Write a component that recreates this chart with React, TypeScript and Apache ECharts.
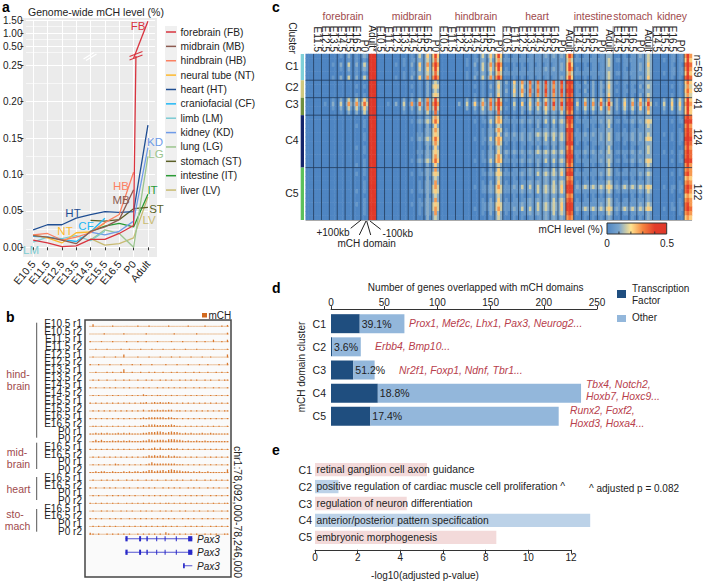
import React, { useEffect, useRef } from "react";
import * as echarts from "echarts";

const FONT = "Liberation Sans";
const INK = "#222222";
const BROWN = "#a04a4c";

// ---------- panel a ----------
const stagesA = ["E10.5", "E11.5", "E12.5", "E13.5", "E14.5", "E15.5", "E16.5", "P0", "Adult"];
const fb = [0.010, 0.006, 0.001, 0.002, 0.011, 0.011, 0.019, 0.03, 1.45];
const fbUpper = [null, null, null, null, null, null, null, 0.03, 1.45];
const mb = [0.016, 0.014, 0.010, 0.005, 0.022, 0.028, 0.038, 0.079, null];
const hb = [0.017, 0.019, 0.010, 0.014, 0.020, 0.034, 0.045, 0.103, null];
const nt = [0.017, 0.013, 0.006, 0.020, 0.021, 0.033, null, null, null];
const ht = [0.024, 0.031, 0.031, 0.040, 0.045, 0.049, 0.048, 0.049, 0.168];
const cf = [0.015, 0.014, 0.011, 0.008, 0.021, 0.040, null, null, null];
const lm = [0.007, 0.014, 0.012, 0.016, 0.009, 0.022, null, null, null];
const kd = [null, null, null, null, 0.021, 0.017, 0.022, 0.036, 0.137];
const lg = [null, null, null, null, 0.010, 0.024, 0.019, 0.000, 0.125];
const st = [null, null, null, null, 0.037, 0.036, 0.038, 0.053, 0.055];
const it = [null, null, null, null, 0.022, 0.029, 0.033, 0.028, 0.073];
const lv = [null, null, null, null, 0.012, 0.003, 0.005, 0.013, 0.069];
const tissuesA = [
  { name: "forebrain (FB)", code: "FB", color: "#d9343f", data: fb, at: [138, 26] },
  { name: "midbrain (MB)", code: "MB", color: "#8c5a50", data: mb, at: [121, 200] },
  { name: "hindbrain (HB)", code: "HB", color: "#fb8062", data: hb, at: [121, 186] },
  { name: "neural tube (NT)", code: "NT", color: "#fdb92e", data: nt, at: [65, 231] },
  { name: "heart (HT)", code: "HT", color: "#1f4e93", data: ht, at: [73, 212.5] },
  { name: "craniofacial (CF)", code: "CF", color: "#22b8f5", data: cf, at: [86, 226] },
  { name: "limb (LM)", code: "LM", color: "#7ccbd3", data: lm, at: [31, 250] },
  { name: "kidney (KD)", code: "KD", color: "#6f9be8", data: kd, at: [155, 141.5] },
  { name: "lung (LG)", code: "LG", color: "#9cc58f", data: lg, at: [156, 154] },
  { name: "stomach (ST)", code: "ST", color: "#5a5f26", data: st, at: [156.5, 208.5] },
  { name: "intestine (IT)", code: "IT", color: "#2a9a35", data: it, at: [152.5, 190] },
  { name: "liver (LV)", code: "LV", color: "#c9bb72", data: lv, at: [149, 220] },
];

// ---------- panel b ----------
const trackNames = [
  "E10.5 r1", "E10.5 r2", "E11.5 r1", "E11.5 r2", "E12.5 r1", "E12.5 r2", "E13.5 r1", "E13.5 r2",
  "E14.5 r1", "E14.5 r2", "E15.5 r1", "E15.5 r2", "E16.5 r1", "E16.5 r2", "P0 r1", "P0 r2",
  "E16.5 r1", "E16.5 r2", "P0 r1", "P0 r2",
  "E16.5 r1", "E16.5 r2", "P0 r1", "P0 r2",
  "E16.5 r1", "E16.5 r2", "P0 r1", "P0 r2",
];
const trackBins = [
  "03000000100000000100010000001000000100000100000102",
  "00000100000010000000100000000010000000100000000002",
  "10001000100001000100100010000100010000100100300103",
  "00100010000100100010001000100010001000100000100001",
  "01000100010040000100010001000100100010001001000004",
  "10010001000100010010001000010001000100010010001003",
  "00100010100150010010010100100101001001010010010101",
  "01010010010010100100101001010100101010100101001011",
  "10100101010010100101010010101010101001010100101001",
  "01010010101001010102101011010101001010101001010101",
  "10101010101010101011201212112101010101010101010101",
  "01010101010101010102012121212201101010101010101011",
  "10101010101010101012122222212211010101010101010101",
  "01101010101010101012133322222321101010101010101001",
  "11212121112121211112233344323433212121112112111111",
  "01313111212121211112243233324443321211211211111111",
  "10101010101010100112012313112212010101010101010101",
  "01010101010101010101132323213121101010100101010101",
  "01010101021010101010124222222221110101010101010101",
  "11212211211121212212244233424543322212121121111115",
  "01001010101001010100101010010101010010100101010101",
  "10100101010010100101010100101010100101010010101001",
  "01010010101010101001010101010100101010101001010101",
  "10101010101001010101010101011010101010101010101011",
  "01001010100101010010101001010100101001010010100101",
  "10101001010100101010101010101010010101001010100101",
  "01010101010010101010101010110101001010101001010101",
  "21010010101010100101010101031010101010100101010011",
];
const geneLines = [[0, 13, 36.9], [1, 13, 36.9], [2, 33.6, 36.9]];
const geneExons = [
  [0, 13, 13.8], [0, 17.9, 18.6], [0, 20.5, 21], [0, 24, 24.3], [0, 27, 27.3], [0, 31, 31.3], [0, 35.4, 36.9],
  [1, 13, 13.8], [1, 17.9, 18.6], [1, 20.5, 21], [1, 24, 24.3], [1, 27, 27.3], [1, 31, 31.3], [1, 35.4, 36.9],
  [2, 33.6, 34.2],
];

// ---------- panel c ----------
const stageFull = ["E10.5", "E11.5", "E12.5", "E13.5", "E14.5", "E15.5", "E16.5", "P0", "Adult"];
const stageLate = ["E14.5", "E15.5", "E16.5", "P0", "Adult"];
const stagesC = [
  ...stageFull.slice(0, 8), "Adult*",
  ...stageFull.slice(0, 8),
  ...stageFull.slice(0, 8),
  ...stageFull,
  ...stageLate, ...stageLate, ...stageLate,
];
const tissueC = [
  { name: "forebrain", stages: 9, at: 343 },
  { name: "midbrain", stages: 8, at: 411.7 },
  { name: "hindbrain", stages: 8, at: 476 },
  { name: "heart", stages: 9, at: 537 },
  { name: "intestine", stages: 5, at: 593 },
  { name: "stomach", stages: 5, at: 633 },
  { name: "kidney", stages: 5, at: 672 },
];
const profiles: Record<string, string> = {
  c1a: "000 000 000 000 010 020 010 121 999  000 000 000 000 010 131 242 474  000 000 000 000 010 131 242 474  010 011 011 011 111 121 121 121 475  010 011 011 011 222  000 010 011 121 232  000 000 011 011 585",
  c1b: "000 000 000 000 000 010 010 010 998  000 000 000 010 011 121 232 363  000 000 000 010 011 121 131 353  111 111 111 111 111 111 111 111 353  111 111 111 111 232  011 011 111 111 232  000 010 011 011 474",
  c1c: "000 000 000 010 020 030 020 131 899  000 000 010 010 020 141 252 585  000 000 000 010 020 131 252 585  000 010 010 011 011 011 011 121 474  000 010 011 011 232  000 011 011 121 242  000 000 010 010 696",
  c2a: "000 000 000 000 000 000 000 000 999  000 000 000 000 000 010 020 232  000 000 000 000 000 010 010 232  020 141 252 262 262 272 262 272 797  010 020 020 020 232  010 011 011 011 222  000 000 000 010 464",
  c2b: "000 000 000 000 000 000 010 010 989  000 000 000 000 010 010 020 343  000 000 000 000 010 010 020 242  010 131 241 251 252 262 252 262 686  011 011 020 021 242  000 010 010 020 232  000 000 010 010 353",
  c3a: "000 000 000 010 020 131 131 242 899  000 000 000 020 020 131 252 373  000 000 000 020 020 131 252 373  010 020 021 131 131 242 252 252 696  020 131 131 141 252  020 131 131 141 252  000 020 030 131 484",
  c3b: "000 000 010 020 030 252 252 363 999  000 010 020 030 151 262 262 585  000 000 020 030 141 252 262 585  000 030 040 141 252 262 272 272 797  030 151 151 262 373  020 141 151 252 373  010 030 040 141 585",
  c3c: "000 000 000 000 010 020 020 131 899  000 000 000 010 010 121 131 262  000 000 000 000 010 121 121 262  000 010 020 020 121 131 121 131 575  010 020 020 121 232  010 020 020 121 242  000 010 010 121 474",
  c4a: "000 000 000 000 000 000 000 000 999  000 000 000 000 000 010 121 353  000 000 000 000 000 010 121 353  010 010 011 011 111 121 121 121 787  010 010 011 111 222  000 010 011 111 222  000 000 000 010 686",
  c4b: "000 000 000 000 000 000 000 010 899  000 000 000 000 010 121 232 464  000 000 000 000 010 011 131 454  111 111 121 121 121 131 131 232 696  011 111 111 121 232  011 011 121 121 343  000 000 010 011 797",
  c4c: "000 000 000 000 000 000 010 010 989  000 000 000 000 000 010 020 242  000 000 000 000 000 000 020 232  000 010 010 010 020 011 020 121 575  000 011 010 011 131  000 000 010 011 232  000 000 000 000 575",
  c4d: "000 000 000 000 000 000 000 010 899  000 000 000 000 000 111 121 343  000 000 000 000 000 010 121 242  121 121 121 121 232 232 232 232 686  111 121 121 121 232  011 111 121 121 232  000 010 010 011 696",
  c5a: "000 000 000 000 000 000 000 010 888  000 000 000 000 000 010 121 252  000 000 000 000 000 010 020 242  010 011 011 121 121 121 131 232 676  010 011 011 111 232  010 011 011 111 121  000 000 000 010 565",
  c5b: "000 000 000 000 000 000 010 010 898  000 000 000 000 010 011 121 343  000 000 000 000 000 011 121 343  111 111 121 121 131 232 232 242 787  111 111 111 121 232  011 111 111 121 232  000 000 010 010 675",
  c5c: "000 000 000 000 000 000 000 000 889  000 000 000 000 000 000 020 232  000 000 000 000 000 000 010 232  000 010 010 011 011 121 121 121 565  000 010 010 010 121  000 000 010 010 121  000 000 000 000 454",
  c5d: "000 000 000 000 000 000 000 010 999  000 000 000 000 000 010 121 353  000 000 000 000 010 011 121 353  111 121 131 131 131 232 232 242 787  121 232 232 232 343  121 232 232 232 343  000 010 011 011 686",
};
const clusterRows = [
  ["c1a", "c1b", "c1c", "c1a", "c1b", "c1c"],
  ["c2a", "c2b", "c2a", "c2b"],
  ["c3a", "c3b", "c3a", "c3c"],
  ["c4a", "c4b", "c4c", "c4a", "c4d", "c4b", "c4a", "c4c", "c4d", "c4a", "c4b", "c4c"],
  ["c5a", "c5b", "c5c", "c5a", "c5d", "c5b", "c5c", "c5a", "c5b", "c5d", "c5a", "c5c"],
];
const clusterNames = ["C1", "C2", "C3", "C4", "C5"];
const clusterN = ["n=59", "38", "41", "124", "122"];
const clusterColors = ["#7fd0d8", "#cfc87e", "#6f8f3f", "#14256b", "#5cc05c"];
const clusterLabelY = [66, 87, 104, 140, 192.6];
const clusterNY = [66, 87, 104, 137, 192];
const heatColors = ["#4f86c3", "#7ba6ce", "#ffe390", "#f5843f", "#e33d2a", "#e0382a"];

// ---------- panel d ----------
const clustersD = ["C1", "C2", "C3", "C4", "C5"];
const tfCounts = [27, 1, 21, 44, 37];
const otherCounts = [42, 27, 20, 191, 177];
const tfPercent = ["39.1%", "3.6%", "51.2%", "18.8%", "17.4%"];

// ---------- panel e ----------
const goTerms = [
  "retinal ganglion cell axon guidance",
  "positive regulation of cardiac muscle cell proliferation ^",
  "regulation of neuron differentiation",
  "anterior/posterior pattern specification",
  "embryonic morphogenesis",
];
const goValues = [5.25, 1.1, 4.3, 12.9, 8.5];
const goColors = ["#f3dada", "#bcd2e8", "#f3dada", "#bcd2e8", "#f3dada"];

function txt(text: string, x: number, y: number, o: any = {}) {
  return {
    type: "text", x, y, rotation: o.rotation || 0, z: 50, silent: true,
    style: {
      text, fill: o.fill || INK, fontSize: o.size || 10.5, fontFamily: FONT,
      fontWeight: o.weight || "normal", fontStyle: o.italic ? "italic" : "normal",
      textAlign: o.align || "left", textVerticalAlign: "middle",
    },
  };
}
function seg(x1: number, y1: number, x2: number, y2: number, stroke: string, lineWidth = 1, z = 50) {
  return { type: "line", z, silent: true, shape: { x1, y1, x2, y2 }, style: { stroke, lineWidth } };
}

function buildOption() {
  // panel c data
  const colNames: string[] = [];
  stagesC.forEach((s) => colNames.push(s + " +100kb", s, s + " -100kb"));
  const rowKeys = clusterRows.flat();
  const heat: number[][] = [];
  rowKeys.forEach((k, r) => {
    profiles[k].replace(/\s/g, "").split("").forEach((d, c) => heat.push([c, r, Number(d)]));
  });
  const dividers: number[][] = [];
  let sum = 0;
  const tissueEnds: number[] = [];
  tissueC.forEach((t) => { sum += t.stages * 3; tissueEnds.push(sum); });
  for (let c = 3; c < colNames.length; c += 3) dividers.push([c, 0, c, rowKeys.length]);
  let rsum = 0;
  clusterRows.slice(0, 4).forEach((r) => { rsum += r.length; dividers.push([0, rsum, colNames.length, rsum]); });

  // panel b data
  const trackData: number[][] = [];
  trackBins.forEach((s, r) => s.split("").forEach((d, b) => trackData.push([b, r, Number(d)])));

  const graphics: any[] = [];
  // a backgrounds
  graphics.push({ type: "rect", z: -10, silent: true, shape: { x: 23, y: 18, width: 134, height: 239 }, style: { fill: "#ebebeb" } });
  graphics.push({ type: "rect", z: -10, silent: true, shape: { x: 165, y: 26, width: 12, height: 172 }, style: { fill: "#f0f0f0" } });
  graphics.push(txt("a", 2, 7, { size: 14, weight: "bold", fill: "#000" }));
  graphics.push(txt("Genome-wide mCH level (%)", 28, 11.5, { size: 10.5 }));
  tissuesA.forEach((t, i) => {
    const y = 32 + i * 14.37;
    graphics.push(seg(166, y, 176, y, t.color, 1.5));
    graphics.push(txt(t.name, 180.5, y, { size: 10.2 }));
    graphics.push(txt(t.code, t.at[0], t.at[1], { size: 11.5, fill: t.color, align: "center" }));
  });
  graphics.push(seg(129.5, 56.5, 142.5, 51.5, "#d9343f", 1.2, 60), seg(129.5, 60, 142.5, 55, "#d9343f", 1.2, 60));
  graphics.push(seg(83.5, 59, 94, 52.5, "#ffffff", 1.2, 60), seg(86, 60.5, 96.5, 54, "#ffffff", 1.2, 60));

  // b decorations
  graphics.push({ type: "rect", z: -5, silent: true, shape: { x: 85, y: 320, width: 146, height: 257 }, style: { fill: "#fafafa", stroke: "#444444", lineWidth: 1.5 } });
  graphics.push(txt("b", 6, 317, { size: 14, weight: "bold", fill: "#000" }));
  graphics.push({ type: "rect", z: 50, silent: true, shape: { x: 202, y: 313, width: 5, height: 4.5 }, style: { fill: "#d2691e" } });
  graphics.push(txt("mCH", 208.5, 315, { size: 10 }));
  graphics.push(txt("chr1:78,092,000-78,246,000", 238, 512, { size: 10.5, rotation: -Math.PI / 2, align: "center" }));
  [["hind-", 18, 373.5], ["brain", 18.5, 386], ["mid-", 17, 451.5], ["brain", 18.5, 463.5], ["heart", 18.5, 489], ["sto-", 15, 514], ["mach", 17.5, 526]].forEach((a: any) =>
    graphics.push(txt(a[0], a[1], a[2], { fill: BROWN, align: "center" })));
  graphics.push(seg(36.7, 322.7, 36.7, 437.7, "#555"), seg(36.7, 442.7, 36.7, 469, "#555"), seg(36.7, 477, 36.7, 500, "#555"), seg(36.7, 509, 36.7, 531.7, "#555"));
  ["Pax3", "Pax3", "Pax3"].forEach((g, i) => graphics.push(txt(g, 197, 539 + i * 13.5, { italic: true, size: 10 })));

  // c decorations
  graphics.push(txt("c", 272, 7, { size: 14, weight: "bold", fill: "#000" }));
  tissueC.forEach((t) => graphics.push(txt(t.name, t.at, 16, { fill: BROWN, align: "center", size: 10.4 })));
  graphics.push(txt("Cluster", 292, 38, { rotation: -Math.PI / 2, align: "center", size: 10 }));
  let ry = 54;
  const rowH = 166 / rowKeys.length;
  clusterRows.forEach((r, i) => {
    const h = r.length * rowH;
    graphics.push({ type: "rect", z: 50, silent: true, shape: { x: 300.7, y: ry, width: 3.3, height: h }, style: { fill: clusterColors[i] } });
    graphics.push(txt(clusterNames[i], 292, clusterLabelY[i], { size: 10.5, align: "center" }));
    graphics.push(txt(clusterN[i], 697.5, clusterNY[i], { size: 10, rotation: -Math.PI / 2, align: "center" }));
    ry += h;
  });
  const hx = (c: number) => 305.7 + (c / colNames.length) * 386.3;
  tissueEnds.slice(0, -1).forEach((c) => graphics.push(seg(hx(c), 26, hx(c), 54, "#777777", 0.8)));
  graphics.push(seg(305.7, 220.5, 692, 220.5, "#aaaaaa", 1));
  graphics.push(seg(361, 220, 350.7, 228.3, "#222"), seg(366, 221, 359.3, 235, "#222"), seg(366.7, 221, 370.7, 235, "#222"), seg(370, 221, 380.7, 229.3, "#222"));
  graphics.push(txt("+100kb", 333, 232.7, { align: "center", size: 10 }), txt("-100kb", 397.7, 233, { align: "center", size: 10 }), txt("mCH domain", 366.7, 243.5, { align: "center", size: 10 }));
  graphics.push(txt("mCH level (%)", 603, 229, { align: "right", size: 10 }));
  graphics.push({
    type: "rect", z: 50, silent: true, shape: { x: 607, y: 223, width: 59.7, height: 11 },
    style: {
      stroke: "#333", lineWidth: 1,
      fill: new echarts.graphic.LinearGradient(0, 0, 1, 0, heatColors.map((color, i) => ({ offset: i / (heatColors.length - 1), color }))),
    },
  });
  for (let i = 1; i < 5; i++) graphics.push(seg(607 + i * 11.94, 231.5, 607 + i * 11.94, 234, "#333", 1, 51));
  graphics.push(txt("0", 607, 243, { align: "center", size: 10 }), txt("0.5", 667, 243, { align: "center", size: 10 }));

  // d decorations
  graphics.push(txt("d", 272, 288, { size: 14, weight: "bold", fill: "#000" }));
  graphics.push(txt("Number of genes overlapped with mCH domains", 475.7, 287, { align: "center", size: 10 }));
  graphics.push(txt("mCH domain cluster", 301.7, 367, { align: "center", rotation: Math.PI / 2, size: 10 }));
  graphics.push({ type: "rect", z: 50, silent: true, shape: { x: 617, y: 290, width: 9, height: 8 }, style: { fill: "#1f4e7f" } });
  graphics.push({ type: "rect", z: 50, silent: true, shape: { x: 617, y: 315, width: 9, height: 7 }, style: { fill: "#93b7db" } });
  graphics.push(txt("Transcription", 632, 288, { size: 10 }), txt("Factor", 632, 300.5, { size: 10 }), txt("Other", 632, 317, { size: 10 }));
  ([
    ["Prox1, Mef2c, Lhx1, Pax3, Neurog2...", 409, 323.7], ["Erbb4, Bmp10...", 375, 346], ["Nr2f1, Foxp1, Ndnf, Tbr1...", 399, 370],
    ["Tbx4, Notch2,", 586, 384], ["Hoxb7, Hoxc9...", 586, 396.7], ["Runx2, Foxf2,", 570, 410.7], ["Hoxd3, Hoxa4...", 570, 423],
  ] as any[]).forEach((a) => graphics.push(txt(a[0], a[1], a[2], { italic: true, fill: "#b8404c", size: 10.4 })));

  // e decorations
  graphics.push(txt("e", 272, 450, { size: 14, weight: "bold", fill: "#000" }));
  graphics.push(txt("^ adjusted p = 0.082", 589, 488, { size: 10 }));
  graphics.push(txt("-log10(adjusted p-value)", 425, 575.5, { align: "center", size: 10 }));

  const greyLine = { color: "#333", width: 1 };
  const lowerTicks = [0, 0.05, 0.1, 0.15, 0.2, 0.25];
  const upperTicks = [0.5, 1, 1.5];
  const bandX = { type: "category", data: stagesA };
  const white = { show: true, lineStyle: { color: "#ffffff", width: 1 } };
  const whiteMinor = { show: true, lineStyle: { color: "#ffffff", width: 0.6 } };

  const grid = [
    { left: 25.5, width: 129.6, top: 20, height: 39 },
    { left: 25.5, width: 129.6, top: 56.6, height: 227.1 },
    { left: 89, width: 140, top: 319.5, height: 215.6 },
    { left: 89, width: 140, top: 532, height: 40.5 },
    { left: 305.7, width: 386.3, top: 54, height: 166 },
    { left: 305.7, width: 386.3, top: 54, height: 166 },
    { left: 331, width: 266, top: 312.1, height: 115.8 },
    { left: 315, width: 256, top: 461.2, height: 84.6 },
  ];
  const xAxis: any[] = [
    { ...bandX, gridIndex: 0, axisLine: { show: false }, axisTick: { show: false }, axisLabel: { show: false }, splitLine: { ...white, alignWithLabel: true, interval: 0 } },
    {
      ...bandX, gridIndex: 1, offset: -26.7, axisLine: { show: false },
      axisTick: { show: true, length: 3, alignWithLabel: true, interval: 0, lineStyle: greyLine },
      axisLabel: { rotate: 50, fontSize: 10.5, color: INK, fontFamily: FONT, interval: 0, margin: 5 },
      splitLine: { ...white, alignWithLabel: true, interval: 0 },
    },
    { type: "value", gridIndex: 2, min: 0, max: 50, show: false },
    { type: "value", gridIndex: 3, min: 0, max: 50, show: false },
    {
      type: "category", gridIndex: 4, data: colNames, position: "top",
      axisLine: { show: false }, axisTick: { show: false }, splitLine: { show: false },
      axisLabel: {
        rotate: 90, fontSize: 10, color: INK, fontFamily: FONT, margin: 2, hideOverlap: false,
        interval: (i: number) => i % 3 === 1,
        formatter: (_: string, i: number) => stagesC[(i - 1) / 3],
      },
    },
    { type: "value", gridIndex: 5, min: 0, max: colNames.length, show: false },
    {
      type: "value", gridIndex: 6, min: 0, max: 250, interval: 50, position: "top", offset: 3,
      axisLine: { show: true, lineStyle: greyLine }, axisTick: { show: true, length: 3, lineStyle: greyLine },
      axisLabel: { fontSize: 10, color: INK, fontFamily: FONT, margin: 2 }, splitLine: { show: false },
    },
    {
      type: "value", gridIndex: 7, min: 0, max: 12, interval: 2, offset: 4,
      axisLine: { show: true, lineStyle: greyLine }, axisTick: { show: true, length: 4, lineStyle: greyLine },
      axisLabel: { fontSize: 10, color: INK, fontFamily: FONT, margin: 3 }, splitLine: { show: false },
    },
  ];
  const yAxis: any[] = [
    {
      type: "value", gridIndex: 0, min: 0, max: 1.5, interval: 0.5, offset: 2.5,
      axisLine: { show: false },
      axisTick: { show: true, length: 3, customValues: upperTicks, lineStyle: greyLine },
      axisLabel: { fontSize: 10, color: INK, fontFamily: FONT, margin: 1, customValues: upperTicks, formatter: (v: number) => v.toFixed(2) },
      splitLine: white, minorTick: { show: false, splitNumber: 2 }, minorSplitLine: whiteMinor,
    },
    {
      type: "value", gridIndex: 1, min: -0.05, max: 0.262, interval: 0.05, offset: 2.5,
      axisLine: { show: false },
      axisTick: { show: true, length: 3, customValues: lowerTicks, lineStyle: greyLine },
      axisLabel: { fontSize: 10, color: INK, fontFamily: FONT, margin: 1, customValues: lowerTicks, formatter: (v: number) => v.toFixed(2) },
      splitLine: white, minorTick: { show: false, splitNumber: 2 }, minorSplitLine: whiteMinor,
    },
    {
      type: "category", gridIndex: 2, data: trackNames, inverse: true,
      axisLine: { show: false }, axisTick: { show: false }, splitLine: { show: false },
      axisLabel: { interval: 0, fontSize: 10, color: INK, fontFamily: FONT, margin: 7, hideOverlap: false },
    },
    { type: "value", gridIndex: 3, min: 0, max: 3, inverse: true, show: false },
    { type: "category", gridIndex: 4, data: rowKeys.map((k, i) => k + i), inverse: true, show: false },
    { type: "value", gridIndex: 5, min: 0, max: rowKeys.length, inverse: true, show: false },
    {
      type: "category", gridIndex: 6, data: clustersD, inverse: true,
      axisLine: { show: false }, axisTick: { show: false },
      axisLabel: { fontSize: 10.5, color: INK, fontFamily: FONT, margin: 5 },
    },
    {
      type: "category", gridIndex: 7, data: clustersD, inverse: true,
      axisLine: { show: false }, axisTick: { show: false },
      axisLabel: { fontSize: 10.5, color: INK, fontFamily: FONT, margin: 3 },
    },
  ];

  const series: any[] = [];
  series.push({
    type: "line", xAxisIndex: 0, yAxisIndex: 0, data: fbUpper, symbol: "none", silent: true, clip: true,
    lineStyle: { color: tissuesA[0].color, width: 1.3 },
  });
  tissuesA.slice().reverse().forEach((t) =>
    series.push({
      type: "line", name: t.name, xAxisIndex: 1, yAxisIndex: 1, data: t.data, symbol: "none", silent: true, clip: true,
      connectNulls: false, lineStyle: { color: t.color, width: 1.3 },
    }));
  series.push({
    type: "custom", xAxisIndex: 2, yAxisIndex: 2, silent: true, data: trackData, clip: false,
    renderItem: (_: any, api: any) => {
      const p = api.coord([api.value(0), api.value(1)]);
      const base = p[1] + 3.4;
      const w = (140 / 50);
      const h = api.value(2);
      const children: any[] = [{ type: "rect", shape: { x: p[0], y: base - 0.9, width: w, height: 0.9 }, style: { fill: "#e8b98e" } }];
      if (h > 0) children.push({ type: "rect", shape: { x: p[0] + 0.6, y: base - h * 0.65 - 0.5, width: 1.3, height: h * 0.65 + 0.5 }, style: { fill: "#d9782e" } });
      return { type: "group", children };
    },
  });
  const blue = "#2828c8";
  series.push({
    type: "custom", xAxisIndex: 3, yAxisIndex: 3, silent: true, data: geneLines,
    renderItem: (_: any, api: any) => {
      const a = api.coord([api.value(1), api.value(0) + 0.5]);
      const b = api.coord([api.value(2), api.value(0) + 0.5]);
      return { type: "line", shape: { x1: a[0], y1: a[1], x2: b[0], y2: b[1] }, style: { stroke: blue, lineWidth: 0.8 } };
    },
  });
  series.push({
    type: "custom", xAxisIndex: 3, yAxisIndex: 3, silent: true, data: geneExons,
    renderItem: (_: any, api: any) => {
      const a = api.coord([api.value(1), api.value(0) + 0.5]);
      const b = api.coord([api.value(2), api.value(0) + 0.5]);
      return { type: "rect", shape: { x: a[0], y: a[1] - 2.6, width: Math.max(1, b[0] - a[0]), height: 5.2 }, style: { fill: blue } };
    },
  });
  series.push({
    type: "heatmap", xAxisIndex: 4, yAxisIndex: 4, data: heat, silent: true, progressive: 0,
    itemStyle: { borderWidth: 0 }, emphasis: { disabled: true },
  });
  series.push({
    type: "custom", xAxisIndex: 5, yAxisIndex: 5, silent: true, data: dividers, z: 5,
    renderItem: (_: any, api: any) => {
      const a = api.coord([api.value(0), api.value(1)]);
      const b = api.coord([api.value(2), api.value(3)]);
      return { type: "line", shape: { x1: a[0], y1: a[1], x2: b[0], y2: b[1] }, style: { stroke: "#1f3a5c", lineWidth: 0.8 } };
    },
  });
  series.push({
    type: "bar", xAxisIndex: 6, yAxisIndex: 6, stack: "genes", data: tfCounts, barWidth: 19, silent: true,
    itemStyle: { color: "#1f4e7f" },
  });
  series.push({
    type: "bar", xAxisIndex: 6, yAxisIndex: 6, stack: "genes", data: otherCounts, barWidth: 19, silent: true,
    itemStyle: { color: "#93b7db" },
    label: {
      show: true, position: "insideLeft", distance: 2, color: INK, fontSize: 10.5, fontFamily: FONT, overflow: "none",
      formatter: (p: any) => tfPercent[p.dataIndex],
    },
  });
  series.push({
    type: "bar", xAxisIndex: 7, yAxisIndex: 7, barWidth: 13.3, silent: true, clip: false,
    data: goValues.map((value, i) => ({ value, itemStyle: { color: goColors[i] } })),
    label: {
      show: true, position: "insideLeft", distance: 1.5, color: INK, fontSize: 10.3, fontFamily: FONT, overflow: "none",
      formatter: (p: any) => goTerms[p.dataIndex],
    },
  });

  const heatSeriesIndex = series.findIndex((s) => s.type === "heatmap");
  return {
    animation: false,
    backgroundColor: "#ffffff",
    textStyle: { fontFamily: FONT },
    grid, xAxis, yAxis, series,
    visualMap: { show: false, type: "continuous", min: 0, max: 9, dimension: 2, seriesIndex: heatSeriesIndex, inRange: { color: heatColors } },
    graphic: { elements: graphics },
  };
}

export default function App() {
  const ref = useRef<HTMLDivElement>(null);
  useEffect(() => {
    const chart = echarts.init(ref.current!, undefined, { renderer: "svg" });
    chart.setOption(buildOption() as any);
    return () => chart.dispose();
  }, []);
  return <div ref={ref} style={{ position: "absolute", left: 0, top: 0, width: 703, height: 581 }} />;
}
